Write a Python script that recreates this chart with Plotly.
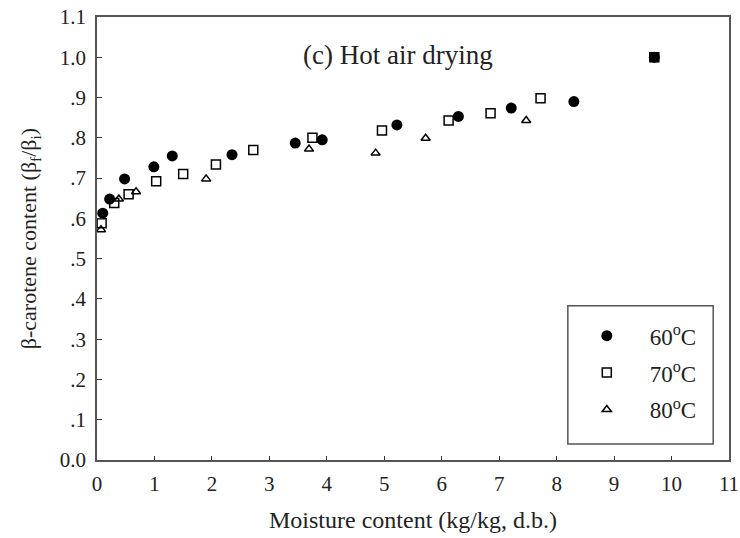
import plotly.graph_objects as go

# 60 °C
x60 = [0.10, 0.22, 0.48, 0.99, 1.31, 2.35, 3.45, 3.92, 5.22, 6.29, 7.21, 8.30, 9.70]
y60 = [0.613, 0.648, 0.698, 0.728, 0.755, 0.758, 0.787, 0.795, 0.832, 0.853, 0.874, 0.890, 1.000]
# 70 °C
x70 = [0.08, 0.30, 0.55, 1.03, 1.50, 2.07, 2.72, 3.75, 4.96, 6.12, 6.85, 7.72, 9.70]
y70 = [0.588, 0.638, 0.660, 0.692, 0.710, 0.734, 0.770, 0.800, 0.818, 0.843, 0.861, 0.898, 1.000]
# 80 °C
x80 = [0.07, 0.38, 0.68, 1.90, 3.69, 4.85, 5.72, 7.47, 9.70]
y80 = [0.572, 0.648, 0.666, 0.698, 0.772, 0.762, 0.799, 0.843, 1.000]

names = ["60<sup>o</sup>C", "70<sup>o</sup>C", "80<sup>o</sup>C"]
yticks = [0.0, 0.1, 0.2, 0.3, 0.4, 0.5, 0.6, 0.7, 0.8, 0.9, 1.0, 1.1]
yticklabels = ["0.0", ".1", ".2", ".3", ".4", ".5", ".6", ".7", ".8", ".9", "1.0", "1.1"]
xticks = list(range(0, 12))

FONT = "Liberation Serif, Times New Roman, serif"
pad = "&nbsp;" * 4

fig = go.Figure()
fig.add_trace(go.Scatter(x=x60, y=y60, mode="markers", name=pad + names[0], legendgroup="a",
                         marker=dict(symbol="circle", size=11, color="black")))
fig.add_trace(go.Scatter(x=x70, y=y70, mode="markers", name=pad + names[1], legendgroup="b",
                         marker=dict(symbol="square-open", size=9, color="black", line=dict(width=1.5))))
fig.add_trace(go.Scatter(x=x80, y=y80, mode="markers", name=pad + names[2], legendgroup="c",
                         marker=dict(symbol="triangle-up-open", size=8, color="black", line=dict(width=1.5))))

axis_common = dict(showgrid=False, zeroline=False, showline=True, linecolor="#555555",
                   linewidth=1.5, mirror=True, ticks="inside", tickcolor="#333333",
                   automargin=False,
                   tickfont=dict(family=FONT, size=21, color="#222222"))

fig.update_layout(
    width=740, height=538,
    margin=dict(l=97, r=11, t=17, b=78),
    paper_bgcolor="white", plot_bgcolor="white",
    font=dict(family=FONT, color="#222222"),
    showlegend=True,
    legend=dict(x=0.775, y=0.329, xanchor="left", yanchor="top", bgcolor="rgba(0,0,0,0)",
                font=dict(family=FONT, size=23, color="#222222"), traceorder="grouped",
                tracegroupgap=4, itemsizing="trace"),
    xaxis=dict(range=[0, 11], tickvals=xticks, ticklen=4, ticklabelstandoff=4,
               ticklabeloverflow="allow",
               title=dict(text="Moisture content (kg/kg, d.b.)", font=dict(family=FONT, size=24), standoff=16),
               **axis_common),
    yaxis=dict(range=[0, 1.1], tickvals=yticks, ticktext=yticklabels, ticklen=5, ticklabelstandoff=5,
               title=dict(text="β-carotene content (β<sub>f</sub>/β<sub>i</sub>)", font=dict(family=FONT, size=22), standoff=17),
               **axis_common),
    shapes=[dict(type="rect", xref="paper", yref="paper", x0=0.745, x1=0.975, y0=0.036, y1=0.348,
                 line=dict(color="#555555", width=1.5), fillcolor="rgba(0,0,0,0)")],
    annotations=[dict(text="(c) Hot air drying", xref="paper", yref="paper", x=0.476, y=0.914,
                      showarrow=False, xanchor="center", yanchor="middle",
                      font=dict(family=FONT, size=27, color="#222222"))],
)

fig.write_html("out.html")
